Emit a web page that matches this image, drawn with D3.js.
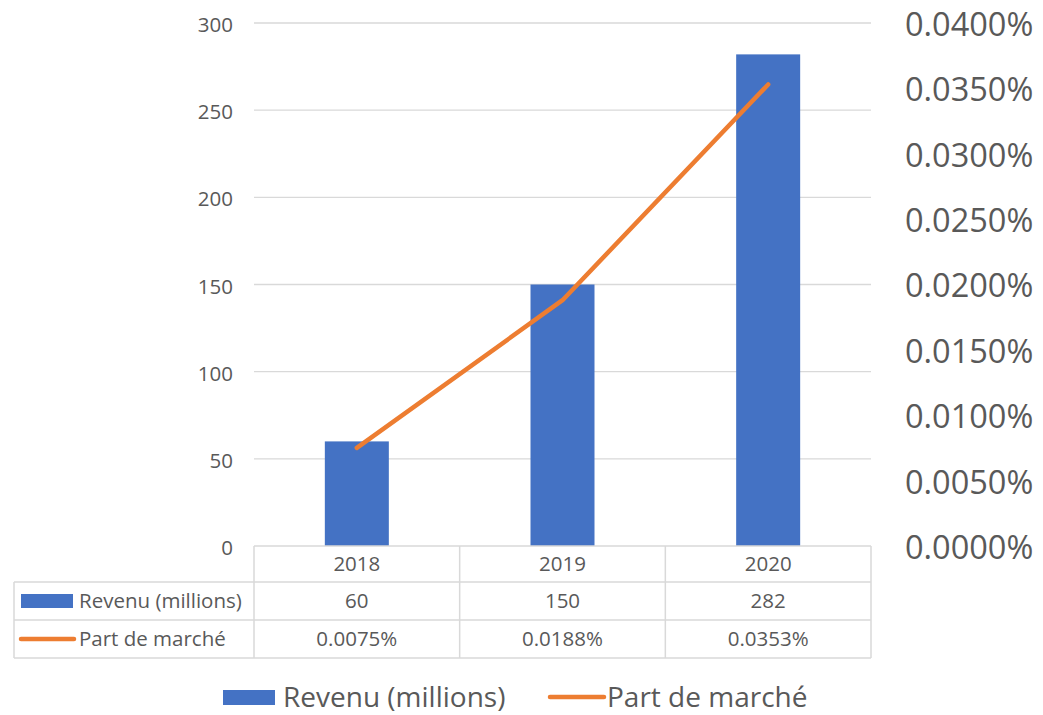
<!DOCTYPE html>
<html>
<head>
<meta charset="utf-8">
<script src="https://cdn.jsdelivr.net/npm/d3@7"></script>
<style>
  body { margin: 0; background: #fff; }
  text { font-family: "Open Sans", "Noto Sans", sans-serif; fill: #595959; }
</style>
</head>
<body>
<svg id="chart" width="1043" height="715"></svg>
<script>
// data
var years = ["2018", "2019", "2020"];
var revenu = [60, 150, 282];
var part = [0.0075, 0.0188, 0.0353];           // in percent
var leftTicks = [0, 50, 100, 150, 200, 250, 300];
var rightTicks = [0, 0.005, 0.01, 0.015, 0.02, 0.025, 0.03, 0.035, 0.04];
var seriesNames = ["Revenu (millions)", "Part de marché"];

var blue = "#4472C4", orange = "#ED7D31", gridColor = "#d9d9d9";

var svg = d3.select("#chart");
var plotLeft = 254, plotRight = 871, plotTop = 23, plotBottom = 546;

var x = d3.scaleBand().domain(years).range([plotLeft, plotRight]).paddingInner(0).paddingOuter(0);
var y = d3.scaleLinear().domain([0, 300]).range([plotBottom, plotTop]);
var y2 = d3.scaleLinear().domain([0, 0.04]).range([plotBottom, plotTop]);

// gridlines
svg.append("g").selectAll("line")
	.data(leftTicks.filter(function(d) { return d > 0; }))
	.enter().append("line")
	.attr("x1", plotLeft).attr("x2", plotRight)
	.attr("y1", function(d) { return y(d); })
	.attr("y2", function(d) { return y(d); })
	.attr("stroke", gridColor).attr("stroke-width", 1.3);

// left axis
var yAxis = svg.append("g")
	.attr("transform", "translate(" + (plotLeft - 21) + ",2)")
	.call(d3.axisLeft(y).tickValues(leftTicks).tickSize(0).tickPadding(0));
yAxis.select(".domain").remove();
yAxis.selectAll("text").style("font-size", "20.5px").attr("fill", "#595959").attr("dy", "0.32em");

// right axis
var yAxis2 = svg.append("g")
	.attr("transform", "translate(" + (plotRight + 34) + ",2)")
	.call(d3.axisRight(y2).tickValues(rightTicks).tickSize(0).tickPadding(0)
		.tickFormat(function(d) { return d3.format(".4f")(d) + "%"; }));
yAxis2.select(".domain").remove();
yAxis2.selectAll("text").style("font-size", "32.5px").attr("fill", "#595959").attr("dy", "0.32em");
svg.selectAll(".tick text").attr("font-family", null);

// bars
var barW = 64;
svg.append("g").selectAll("rect")
	.data(revenu)
	.enter().append("rect")
	.attr("x", function(d, i) { return x(years[i]) + x.bandwidth() / 2 - barW / 2; })
	.attr("y", function(d) { return y(d); })
	.attr("width", barW)
	.attr("height", function(d) { return plotBottom - y(d); })
	.attr("fill", blue);

// line
var line = d3.line()
	.x(function(d, i) { return x(years[i]) + x.bandwidth() / 2; })
	.y(function(d) { return y2(d); });
svg.append("path")
	.datum(part)
	.attr("d", line)
	.attr("fill", "none")
	.attr("stroke", orange)
	.attr("stroke-width", 4.5)
	.attr("stroke-linecap", "round")
	.attr("stroke-linejoin", "round");

// data table
var rowY = [plotBottom, 582, 620, 658];
var tableLeft = 14;
var tbl = svg.append("g").attr("stroke", gridColor).attr("stroke-width", 1.5);
tbl.append("line").attr("x1", plotLeft).attr("x2", plotRight).attr("y1", rowY[0]).attr("y2", rowY[0]);
[1, 2, 3].forEach(function(r) {
	tbl.append("line").attr("x1", tableLeft).attr("x2", plotRight).attr("y1", rowY[r]).attr("y2", rowY[r]);
});
tbl.append("line").attr("x1", tableLeft).attr("x2", tableLeft).attr("y1", rowY[1]).attr("y2", rowY[3]);
years.forEach(function(yr) {
	tbl.append("line").attr("x1", x(yr)).attr("x2", x(yr)).attr("y1", rowY[0]).attr("y2", rowY[3]);
});
tbl.append("line").attr("x1", plotRight).attr("x2", plotRight).attr("y1", rowY[0]).attr("y2", rowY[3]);

function cellText(txt, cx, r, anchor) {
	svg.append("text")
		.attr("x", cx)
		.attr("y", (rowY[r] + rowY[r + 1]) / 2)
		.attr("dy", "0.35em")
		.attr("text-anchor", anchor || "middle")
		.style("font-size", "20.5px")
		.text(txt);
}
years.forEach(function(yr, i) {
	var cx = x(yr) + x.bandwidth() / 2;
	cellText(yr, cx, 0);
	cellText(revenu[i], cx, 1);
	cellText(d3.format(".4f")(part[i]) + "%", cx, 2);
});

// table legend keys
svg.append("rect").attr("x", 21).attr("y", 594).attr("width", 52).attr("height", 14).attr("fill", blue);
cellText(seriesNames[0], 79, 1, "start");
svg.append("line").attr("x1", 21).attr("x2", 74).attr("y1", 639).attr("y2", 639)
	.attr("stroke", orange).attr("stroke-width", 4.5).attr("stroke-linecap", "round");
cellText(seriesNames[1], 79, 2, "start");

// bottom legend
var legY = 697;
svg.append("rect").attr("x", 223).attr("y", 690).attr("width", 52).attr("height", 15).attr("fill", blue);
svg.append("text").attr("x", 283).attr("y", legY).attr("dy", "0.35em").style("font-size", "28px").text(seriesNames[0]);
svg.append("line").attr("x1", 550).attr("x2", 604).attr("y1", legY).attr("y2", legY)
	.attr("stroke", orange).attr("stroke-width", 4.5).attr("stroke-linecap", "round");
svg.append("text").attr("x", 607).attr("y", legY).attr("dy", "0.35em").style("font-size", "28px").text(seriesNames[1]);
</script>
</body>
</html>
